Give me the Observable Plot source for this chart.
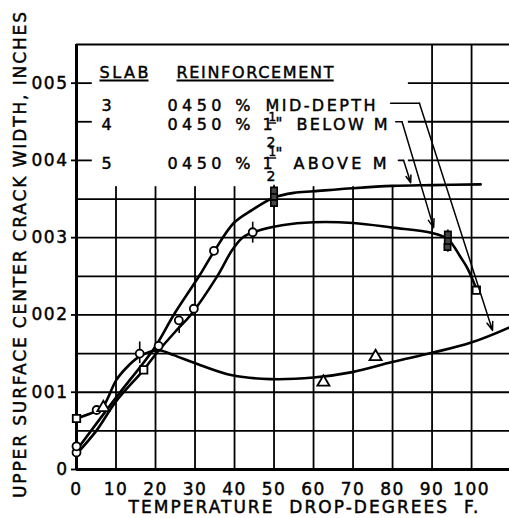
<!DOCTYPE html>
<html><head><meta charset="utf-8">
<script src="https://cdn.jsdelivr.net/npm/d3@7"></script>
<script src="https://cdn.jsdelivr.net/npm/@observablehq/plot@0.6"></script>
<style>
html,body{margin:0;padding:0;background:#fff;}
#chart svg{display:block;}
#chart svg text{stroke:#000;stroke-width:0.45px;}
</style></head><body><div id="chart"></div>
<script>
// ---- axis ticks ----
const xTicks = [0,10,20,30,40,50,60,70,80,90,100];
const xTickLabels = ["0","10","20","30","40","50","60","70","80","90","100"];
const yTicks = [0,0.001,0.002,0.003,0.004,0.005];
const yTickLabels = ["0","001","002","003","004","005"];
const gridX = [10,20,30,40,50,60,70,80,90,100];
const gridY = [0.0005,0.001,0.0015,0.002,0.0025,0.003,0.0035,0.004,0.0045,0.005];

// ---- curves ----
// slab 5, 1 1/2" above M (top curve)
const slab5X = [0,10,19.8,24.6,31,34.8,39.8,44.5,50,55,60,70,80,90,102.3];
const slab5Y = [0.00025,0.00093,0.00158,0.002,0.0025,0.00282,0.00319,0.00336,0.00352,0.00358,0.0036,0.00364,0.00367,0.00368,0.00369];
// slab 4, 1 1/2" below M (middle curve)
const slab4X = [0,5,10,17,20.5,25.3,28.9,35.6,39.4,42,44.8,52,60,70,80,90,94,97.2,99,101.5];
const slab4Y = [0.0002,0.0005,0.00088,0.00129,0.00152,0.0018,0.002,0.0025,0.00284,0.003,0.00307,0.00316,0.0032,0.00319,0.00313,0.00306,0.00298,0.00275,0.0026,0.0023];
// slab 3, mid-depth (bottom curve)
const slab3X = [0,5.1,6.8,10.1,12.7,15.6,19,21.3,24.6,31.4,39.4,49,60,69.8,79.9,90,99.7,109.6,112];
const slab3Y = [0.00066,0.00076,0.00082,0.00116,0.00132,0.00145,0.00153,0.00154,0.00148,0.00135,0.00122,0.00117,0.00119,0.00126,0.00139,0.00151,0.00164,0.00184,0.0019];

// ---- plotted test points ----
const circleX = [0,0,5.1,16,20.8,25.9,29.7,34.8,44.6];
const circleY = [0.00022,0.0003,0.00077,0.0015,0.0016,0.00193,0.00208,0.00283,0.00307];
const squareX = [0,17,101.2];
const squareY = [0.00066,0.00129,0.00232];
const triangleX = [6.8,62.5,75.7];
const triangleY = [0.0008,0.00113,0.00146];
const clusterX = [50,50,50,93.9,94,94];
const clusterY = [0.00345,0.00353,0.00361,0.00288,0.00296,0.00304];
const barX = [16,44.6,26,50,94];
const barY1 = [0.00137,0.00293,0.00176,0.00338,0.00281];
const barY2 = [0.00165,0.0032,0.00185,0.00368,0.0031];

// ---- legend content ----
const headers = ["SLAB","REINFORCEMENT"];
const slabs = ["3","4","5"];
const reinforcement = ["0450 %","0450 %","0450 %"];
const locations = ["MID-DEPTH","BELOW M","ABOVE M"];
const xTitle = "TEMPERATURE  DROP-DEGREES  F.";
const yTitle = "UPPER SURFACE CENTER CRACK WIDTH, INCHES";

// ---- leader arrows (data coords) ----
const leaderX = [[79.5,86.8,105.3],[80.8,82.4,90.4],[81.5,82.8,84.6]];
const leaderY = [[0.00474,0.00474,0.0018],[0.0045,0.0045,0.00313],[0.004,0.004,0.00371]];

const pts = (xs, ys) => xs.map((x,i)=>({x, y: ys[i]}));
const FONT = "DejaVu Sans";

const marks = [];
// grid
marks.push(Plot.ruleX(gridX, {stroke:"#000", strokeWidth:1.8}));
marks.push(Plot.ruleY(gridY, {stroke:"#000", strokeWidth:1.8}));
// legend panel
marks.push(Plot.rect([{x1:0,x2:84,y1:0.00366,y2:0.0055}], {x1:"x1",x2:"x2",y1:"y1",y2:"y2",fill:"#fff"}));
marks.push(Plot.ruleY([0.004,0.0045,0.005], {x1:0, x2:4, stroke:"#000", strokeWidth:1.8}));
// frame
marks.push(Plot.ruleX([0], {stroke:"#000", strokeWidth:3}));
marks.push(Plot.ruleY([0], {stroke:"#000", strokeWidth:3}));
marks.push(Plot.ruleY([0.0055], {stroke:"#000", strokeWidth:2.2}));

// curves
for (const [xs, ys] of [[slab5X,slab5Y],[slab4X,slab4Y],[slab3X,slab3Y]]) {
  marks.push(Plot.line(pts(xs,ys), {x:"x", y:"y", curve:"catmull-rom", stroke:"#000", strokeWidth:2.6}));
}
// points
marks.push(Plot.ruleX(barX.map((x,i)=>({x,y1:barY1[i],y2:barY2[i]})), {x:"x",y1:"y1",y2:"y2",stroke:"#000",strokeWidth:1.6}));
marks.push(Plot.dot(pts(circleX,circleY), {x:"x",y:"y",r:4,symbol:"circle",fill:"#fff",stroke:"#000",strokeWidth:1.8}));
marks.push(Plot.dot(pts(squareX,squareY), {x:"x",y:"y",r:4.2,symbol:"square",fill:"#fff",stroke:"#000",strokeWidth:1.8}));
marks.push(Plot.dot(pts(triangleX,triangleY), {x:"x",y:"y",r:4.5,symbol:"triangle",fill:"#fff",stroke:"#000",strokeWidth:1.8}));
marks.push(Plot.dot(pts(clusterX,clusterY), {x:"x",y:"y",r:3.6,symbol:"square",fill:"#444",stroke:"#000",strokeWidth:1.6}));

// leaders
leaderX.forEach((xs,i)=>{
  const ys = leaderY[i];
  marks.push(Plot.line(pts(xs.slice(0,2), ys.slice(0,2)), {x:"x",y:"y",stroke:"#000",strokeWidth:1.6}));
  marks.push(Plot.arrow([{x1:xs[1],y1:ys[1],x2:xs[2],y2:ys[2]}], {x1:"x1",y1:"y1",x2:"x2",y2:"y2",stroke:"#000",strokeWidth:1.5,headLength:9,headAngle:38}));
});

// axes
marks.push(Plot.axisY({ticks:yTicks, tickFormat:d=>yTickLabels[yTicks.indexOf(d)], tickSize:5, tickPadding:3, label:null, fontSize:17, strokeWidth:1.8}));
marks.push(Plot.axisX({ticks:xTicks, tickFormat:d=>xTickLabels[xTicks.indexOf(d)], tickSize:0, tickPadding:13, label:null, fontSize:17}));

// axis titles
marks.push(Plot.text([yTitle], {frameAnchor:"left", dx:-56, dy:-2, rotate:-90, textAnchor:"middle", lineAnchor:"middle", fontSize:17}));
marks.push(Plot.text([xTitle], {frameAnchor:"bottom", dx:10.5, dy:43, textAnchor:"middle", lineAnchor:"bottom", fontSize:17}));

// legend (offsets relative to frame top-left at 76,44)
const L = (txt, dx, dy, opts={}) => marks.push(Plot.text([txt], {frameAnchor:"top-left", dx, dy, textAnchor:"start", lineAnchor:"bottom", fontSize:16, ...opts}));
L(headers[0], 23, 33);
L(headers[1], 100, 33);
const rowBase = [66, 85, 124];
slabs.forEach((s,i)=>{
  L(s, 30, rowBase[i], {textAnchor:"middle"});
  L(reinforcement[i], 91, rowBase[i]);
});
L(locations[0], 189, rowBase[0]);
// 1 1/2" fractions
[1,2].forEach(i=>{
  L("1", 186, rowBase[i]);
  L("1", 192, rowBase[i] - (i===1?9:13), {fontSize:12});
  L("2", 190, rowBase[i] + (i===1?17:12), {fontSize:14});
  L("\"", 199, rowBase[i] - (i===1?1:10), {fontSize:15});
});
L(locations[1], 220, rowBase[1]);
L(locations[2], 217, rowBase[2]);

const plot = Plot.plot({
  width:509, height:518,
  marginLeft:76, marginRight:0, marginTop:44, marginBottom:49,
  x:{domain:[0,109.6]},
  y:{domain:[0,0.0055]},
  style:{fontFamily:FONT, color:"#000", background:"#fff", overflow:"hidden"},
  marks
});
document.getElementById("chart").appendChild(plot);

// ---- post-render lettering adjustments ----
const svg = d3.select(plot);
const byText = (s) => svg.selectAll("text").filter(function(){ return this.textContent === s; });
const fit = (s, len) => byText(s).attr("textLength", len).attr("lengthAdjust","spacing");
fit(yTitle, 486); fit(xTitle, 350);
fit(headers[0], 49); fit(headers[1], 157);
fit(reinforcement[0], 83); fit(locations[0], 110); fit(locations[1], 91); fit(locations[2], 93);
svg.selectAll('g[aria-label="x-axis tick label"] text, g[aria-label="y-axis tick label"] text').attr("letter-spacing", "1.5px");

// underlines (headers) and fraction bars
const underline = (sel, off, w) => sel.each(function(){
  const b = this.getBBox();
  const t = this.getAttribute("transform") || "";
  d3.select(this.parentNode).append("line")
    .attr("transform", t)
    .attr("x1", b.x).attr("x2", b.x + b.width)
    .attr("y1", b.y + b.height + off).attr("y2", b.y + b.height + off)
    .attr("stroke", "#000").attr("stroke-width", w);
});
underline(byText(headers[0]), -1, 2);
underline(byText(headers[1]), -1, 2);
underline(byText("1").filter(function(){ return this.parentNode.getAttribute("font-size") === "12"; }), -0.5, 1.4);
</script></body></html>
